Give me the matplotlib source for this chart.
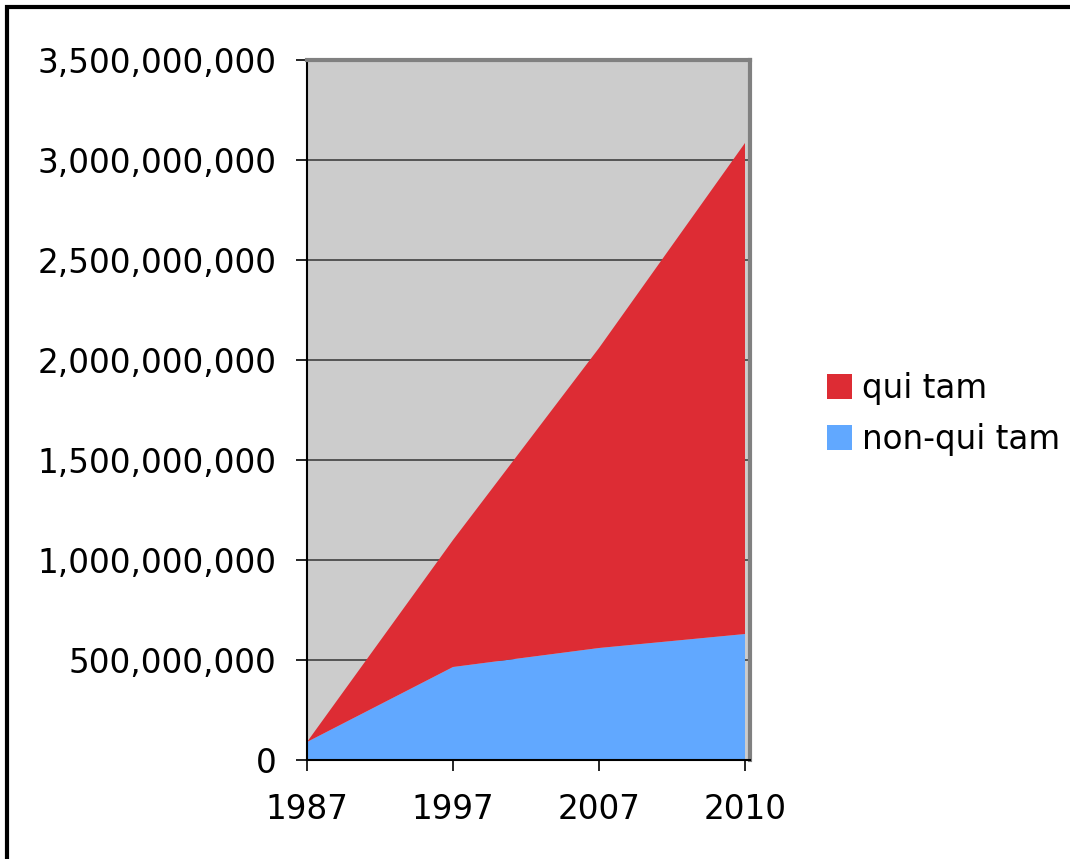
import matplotlib
matplotlib.use("Agg")
import matplotlib.pyplot as plt
from matplotlib.patches import Patch, Rectangle
from matplotlib.ticker import FuncFormatter

# ── data ──────────────────────────────────────────────────────────────────────
years = ["1987", "1997", "2007", "2010"]
non_qui_tam = [90e6, 465e6, 560e6, 630e6]
qui_tam = [0, 635e6, 1500e6, 2455e6]

C_RED = "#DD2C34"
C_BLUE = "#61A8FF"
C_BG = "#CCCCCC"

plt.rcParams["font.family"] = ["DejaVu Sans"]

fig = plt.figure(figsize=(10.7, 8.59), dpi=100)
fig.patch.set_facecolor("white")

# outer border (runs off the right/bottom edge)
fig.patches.append(Rectangle((7 / 1070, -0.1), 1.2, 1.1 - 7 / 859,
                             transform=fig.transFigure, fill=False,
                             edgecolor="black", linewidth=3, zorder=0))

ax = fig.add_axes([307 / 1070, 99 / 859, 443 / 1070, 700 / 859])
ax.set_facecolor(C_BG)

x = list(range(len(years)))
ax.stackplot(x, non_qui_tam, qui_tam, colors=[C_BLUE, C_RED],
             linewidth=0, zorder=2)

ax.set_xlim(0, 3 + 5 / 146)
ax.set_ylim(0, 3.5e9)
ax.set_yticks([i * 500e6 for i in range(8)])
ax.yaxis.set_major_formatter(FuncFormatter(lambda v, p: f"{int(v):,}"))
ax.set_xticks(x)
ax.set_xticklabels(years)

ax.grid(axis="y", color="#404040", linewidth=1.2, zorder=1)
ax.set_axisbelow(True)

ax.tick_params(axis="both", labelsize=23.5, length=8, width=1.2,
               color="black", direction="out")
ax.tick_params(axis="y", pad=14)
ax.tick_params(axis="x", pad=16)

for side in ("left", "bottom"):
    ax.spines[side].set_color("black")
    ax.spines[side].set_linewidth(1.5)
for side in ("top", "right"):
    ax.spines[side].set_color("#808080")
    ax.spines[side].set_linewidth(3)

handles = [Patch(facecolor=C_RED, edgecolor="none", label="qui tam"),
           Patch(facecolor=C_BLUE, edgecolor="none", label="non-qui tam")]
fig.legend(handles=handles, loc="upper left",
           bbox_to_anchor=(827 / 1070, 1 - 372 / 859),
           frameon=False, fontsize=23.5, handlelength=0.78, handleheight=0.78,
           handletextpad=0.3, labelspacing=0.55, borderpad=0, borderaxespad=0)

fig.savefig("out.png", dpi=100, facecolor=fig.get_facecolor())
